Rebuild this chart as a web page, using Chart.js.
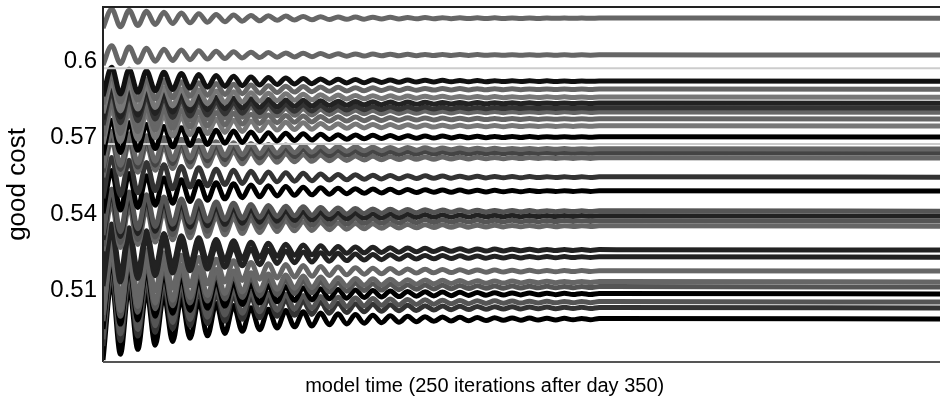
<!DOCTYPE html>
<html>
<head>
<meta charset="utf-8">
<script src="https://cdn.jsdelivr.net/npm/chart.js@4.4.1/dist/chart.umd.min.js"></script>
<style>
  html, body { margin: 0; padding: 0; background: #fff; }
  #wrap { width: 941px; height: 405px; }
</style>
</head>
<body>
<div id="wrap"><canvas id="costChart"></canvas></div>
<script>
// settled level of each good's cost
const levels = [0.6171, 0.6026, 0.5974, 0.5923, 0.5891, 0.5860, 0.5836, 0.5817, 0.5801, 0.5774,
                0.5746, 0.5703, 0.5675, 0.5656, 0.5640, 0.5620, 0.5545, 0.5490, 0.5411, 0.5392,
                0.5372, 0.5352, 0.5258, 0.5230, 0.5175, 0.5132, 0.5112, 0.5085, 0.5053, 0.5030, 0.4986]
// starting half-swing of each line
const amps = [0.0039, 0.0039, 0, 0.0059, 0.0059, 0.0063, 0.0063, 0.0067, 0.0067, 0.0067,
              0.0071, 0.0071, 0, 0.0075, 0.0075, 0.0075, 0.0083, 0.0087, 0.0094, 0.0094,
              0.0098, 0.0098, 0.0110, 0.0114, 0.0122, 0.0130, 0.0134, 0.0138, 0.0146, 0.0150, 0.0161]
const shades = ['#666', '#666', '#ccc', '#111', '#666', '#777', '#222', '#333', '#666', '#666',
                '#777', '#000', '#ccc', '#666', '#444', '#666', '#333', '#000', '#555', '#222',
                '#555', '#666', '#222', '#222', '#666', '#666', '#555', '#000', '#555', '#333', '#000']
// shared damped swing at each turning point (peaks / troughs), all goods in phase
const swing = [-1, 0.93, -0.86, 0.8, -0.74, 0.69, -0.64, 0.59, -0.55, 0.51, -0.47, 0.44, -0.41, 0.38,
               -0.35, 0.33, -0.3, 0.28, -0.26, 0.24, -0.22, 0.21, -0.19, 0.18, -0.17, 0.15, -0.14, 0.13,
               -0.12, 0.11, -0.1, 0.095, -0.088, 0.082, -0.076, 0.07, -0.065, 0.06, -0.056, 0.052, -0.048,
               0.045, -0.042, 0.039, -0.036, 0.033, -0.031, 0.029, -0.027, 0.025, -0.023, 0.021, -0.02,
               0.018, -0.017, 0.016, -0.015, 0.014]
const halfPeriod = 2.6   // iterations between a peak and the next trough
const lastIter = 250
const yTicks = [0.51, 0.54, 0.57, 0.6]

const datasets = levels.map((lv, i) => {
    const pts = swing.map((s, k) => ({ x: k * halfPeriod, y: lv + amps[i] * s }))
    pts.push({ x: lastIter, y: lv })
    return {
        data: pts,
        borderColor: shades[i],
        borderWidth: shades[i] === '#ccc' ? 2 : 5,
        pointRadius: 0,
        cubicInterpolationMode: 'monotone',
        fill: false
    }
})

const frame = {
    id: 'frame',
    afterDraw(chart) {
        const { ctx, chartArea: a } = chart
        ctx.save()
        ctx.lineWidth = 2
        ctx.strokeStyle = '#222'
        ctx.beginPath()
        ctx.moveTo(a.left, a.bottom)
        ctx.lineTo(a.left, a.top)
        ctx.lineTo(a.right, a.top)
        ctx.stroke()
        ctx.strokeStyle = '#555'
        ctx.beginPath()
        ctx.moveTo(a.left, a.bottom)
        ctx.lineTo(a.right, a.bottom)
        ctx.stroke()
        ctx.fillStyle = '#000'
        ctx.font = '20px "Liberation Sans", Arial, sans-serif'
        ctx.textAlign = 'center'
        ctx.textBaseline = 'middle'
        ctx.fillText('model time (250 iterations after day 350)', a.left + a.width * 0.456, a.bottom + 24)
        ctx.restore()
    }
}

new Chart(document.getElementById('costChart'), {
    type: 'line',
    data: { datasets },
    options: {
        responsive: true,
        maintainAspectRatio: false,
        animation: false,
        layout: { padding: { top: 7, right: 1, bottom: 0, left: 0 } },
        plugins: {
            legend: { display: false },
            tooltip: { enabled: false }
        },
        scales: {
            x: {
                type: 'linear',
                min: 0,
                max: lastIter,
                grid: { display: false, drawTicks: false, tickLength: 0 },
                border: { display: false },
                ticks: { display: false },
                afterFit: s => { s.height = 43; s.paddingLeft = 0; s.paddingRight = 0 }
            },
            y: {
                min: 0.4817,
                max: 0.6215,
                grid: { display: false, drawTicks: false, tickLength: 0 },
                border: { display: false },
                afterBuildTicks: s => { s.ticks = yTicks.map(v => ({ value: v })) },
                afterFit: s => { s.width = 103; s.paddingTop = 0; s.paddingBottom = 0 },
                ticks: {
                    color: '#000',
                    padding: 6,
                    font: { family: '"Liberation Sans", Arial, sans-serif', size: 24 },
                    callback: v => String(+v.toFixed(2))
                },
                title: {
                    display: true,
                    text: 'good cost',
                    color: '#000',
                    padding: { top: 2, bottom: 0 },
                    font: { family: '"Liberation Sans", Arial, sans-serif', size: 26 }
                }
            }
        }
    },
    plugins: [frame]
})
</script>
</body>
</html>
